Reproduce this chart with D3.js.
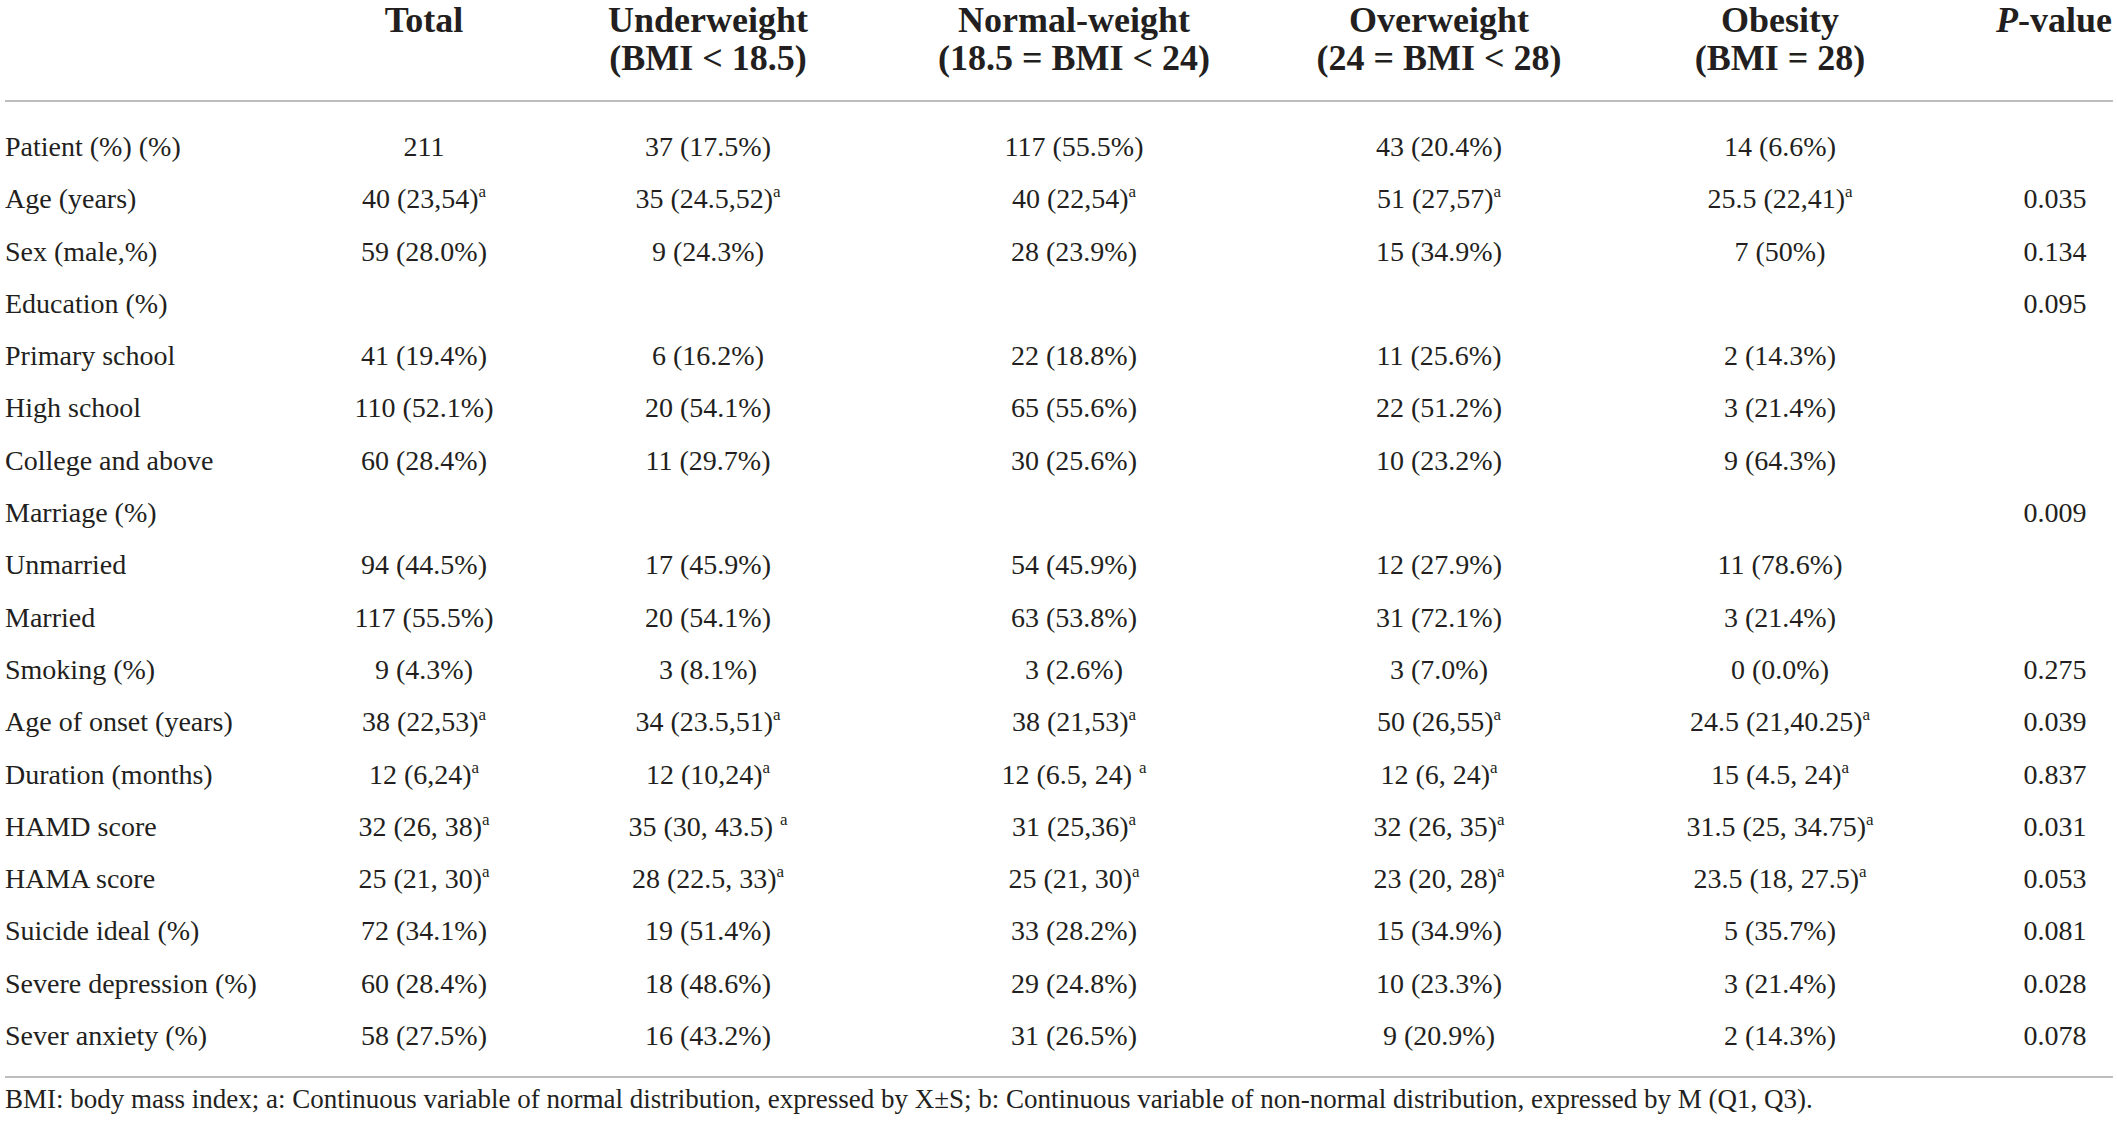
<!DOCTYPE html>
<html>
<head>
<meta charset="utf-8">
<script src="https://cdn.jsdelivr.net/npm/d3@7"></script>
<style>
  html, body { margin: 0; padding: 0; background: #fff; }
  svg { display: block; }
  text { font-family: "Liberation Serif", "DejaVu Serif", serif; fill: #231f20; }
</style>
</head>
<body>
<svg id="chart" width="2117" height="1130"></svg>
<script>
// ---- data ----
const columnKeys = ["total", "under", "normal", "over", "obese", "p"];
const headerLine1 = ["Total", "Underweight", "Normal-weight", "Overweight", "Obesity", "P-value"];
const headerLine2 = ["", "(BMI < 18.5)", "(18.5 = BMI < 24)", "(24 = BMI < 28)", "(BMI = 28)", ""];

const rowLabels = ["Patient (%) (%)", "Age (years)", "Sex (male,%)", "Education (%)", "Primary school", "High school",
  "College and above", "Marriage (%)", "Unmarried", "Married", "Smoking (%)", "Age of onset (years)",
  "Duration (months)", "HAMD score", "HAMA score", "Suicide ideal (%)", "Severe depression (%)", "Sever anxiety (%)"];

// "^a" marks a superscript "a"
const totalValues = ["211", "40 (23,54)^a", "59 (28.0%)", "", "41 (19.4%)", "110 (52.1%)", "60 (28.4%)", "",
  "94 (44.5%)", "117 (55.5%)", "9 (4.3%)", "38 (22,53)^a", "12 (6,24)^a", "32 (26, 38)^a", "25 (21, 30)^a",
  "72 (34.1%)", "60 (28.4%)", "58 (27.5%)"];
const underweightValues = ["37 (17.5%)", "35 (24.5,52)^a", "9 (24.3%)", "", "6 (16.2%)", "20 (54.1%)", "11 (29.7%)", "",
  "17 (45.9%)", "20 (54.1%)", "3 (8.1%)", "34 (23.5,51)^a", "12 (10,24)^a", "35 (30, 43.5) ^a", "28 (22.5, 33)^a",
  "19 (51.4%)", "18 (48.6%)", "16 (43.2%)"];
const normalValues = ["117 (55.5%)", "40 (22,54)^a", "28 (23.9%)", "", "22 (18.8%)", "65 (55.6%)", "30 (25.6%)", "",
  "54 (45.9%)", "63 (53.8%)", "3 (2.6%)", "38 (21,53)^a", "12 (6.5, 24) ^a", "31 (25,36)^a", "25 (21, 30)^a",
  "33 (28.2%)", "29 (24.8%)", "31 (26.5%)"];
const overweightValues = ["43 (20.4%)", "51 (27,57)^a", "15 (34.9%)", "", "11 (25.6%)", "22 (51.2%)", "10 (23.2%)", "",
  "12 (27.9%)", "31 (72.1%)", "3 (7.0%)", "50 (26,55)^a", "12 (6, 24)^a", "32 (26, 35)^a", "23 (20, 28)^a",
  "15 (34.9%)", "10 (23.3%)", "9 (20.9%)"];
const obesityValues = ["14 (6.6%)", "25.5 (22,41)^a", "7 (50%)", "", "2 (14.3%)", "3 (21.4%)", "9 (64.3%)", "",
  "11 (78.6%)", "3 (21.4%)", "0 (0.0%)", "24.5 (21,40.25)^a", "15 (4.5, 24)^a", "31.5 (25, 34.75)^a", "23.5 (18, 27.5)^a",
  "5 (35.7%)", "3 (21.4%)", "2 (14.3%)"];
const pValues = ["", "0.035", "0.134", "0.095", "", "", "", "0.009", "", "", "0.275", "0.039", "0.837", "0.031",
  "0.053", "0.081", "0.028", "0.078"];

const footnote = "BMI: body mass index; a: Continuous variable of normal distribution, expressed by X\u00B1S; b: Continuous variable of non-normal distribution, expressed by M (Q1, Q3).";

// ---- layout ----
const svg = d3.select("#chart");
const W = 2117;
const colX = d3.scaleOrdinal().domain(columnKeys).range([424, 708, 1074, 1439, 1780, 2055]);
const rowY = d3.scalePoint().domain(rowLabels).range([156, 1045]);
const bodySize = 28, headSize = 36;

const columns = [totalValues, underweightValues, normalValues, overweightValues, obesityValues, pValues];

// header
const head = svg.append("g");
columnKeys.forEach((k, i) => {
  const t = head.append("text")
    .attr("x", colX(k)).attr("y", 32)
    .attr("text-anchor", "middle")
    .attr("font-size", headSize).attr("font-weight", "bold");
  if (k === "p") {
    t.attr("x", 2112).attr("text-anchor", "end");
    t.append("tspan").attr("font-style", "italic").text("P");
    t.append("tspan").text("-value");
  } else {
    t.text(headerLine1[i]);
  }
  if (headerLine2[i]) {
    head.append("text")
      .attr("x", colX(k)).attr("y", 70)
      .attr("text-anchor", "middle")
      .attr("font-size", headSize).attr("font-weight", "bold")
      .text(headerLine2[i]);
  }
});

// rules
svg.append("line").attr("x1", 5).attr("x2", W - 4).attr("y1", 101).attr("y2", 101)
  .attr("stroke", "#bdbdbd").attr("stroke-width", 2);
svg.append("line").attr("x1", 5).attr("x2", W - 4).attr("y1", 1077).attr("y2", 1077)
  .attr("stroke", "#bdbdbd").attr("stroke-width", 2);

// row labels
svg.append("g").selectAll("text").data(rowLabels).join("text")
  .attr("x", 5).attr("y", d => rowY(d))
  .attr("font-size", bodySize)
  .text(d => d);

// cells
function addCell(g, str, x, y) {
  if (!str) return;
  const t = g.append("text").attr("x", x).attr("y", y)
    .attr("text-anchor", "middle").attr("font-size", bodySize);
  const idx = str.indexOf("^");
  if (idx >= 0) {
    t.append("tspan").text(str.slice(0, idx));
    t.append("tspan").attr("font-size", 17).attr("dy", -11).text(str.slice(idx + 1));
  } else {
    t.text(str);
  }
}
const body = svg.append("g");
columns.forEach((vals, ci) => {
  vals.forEach((v, ri) => addCell(body, v, colX(columnKeys[ci]), rowY(rowLabels[ri])));
});

// footnote
svg.append("text").attr("x", 5).attr("y", 1108)
  .attr("font-size", 27)
  .text(footnote);
</script>
</body>
</html>
